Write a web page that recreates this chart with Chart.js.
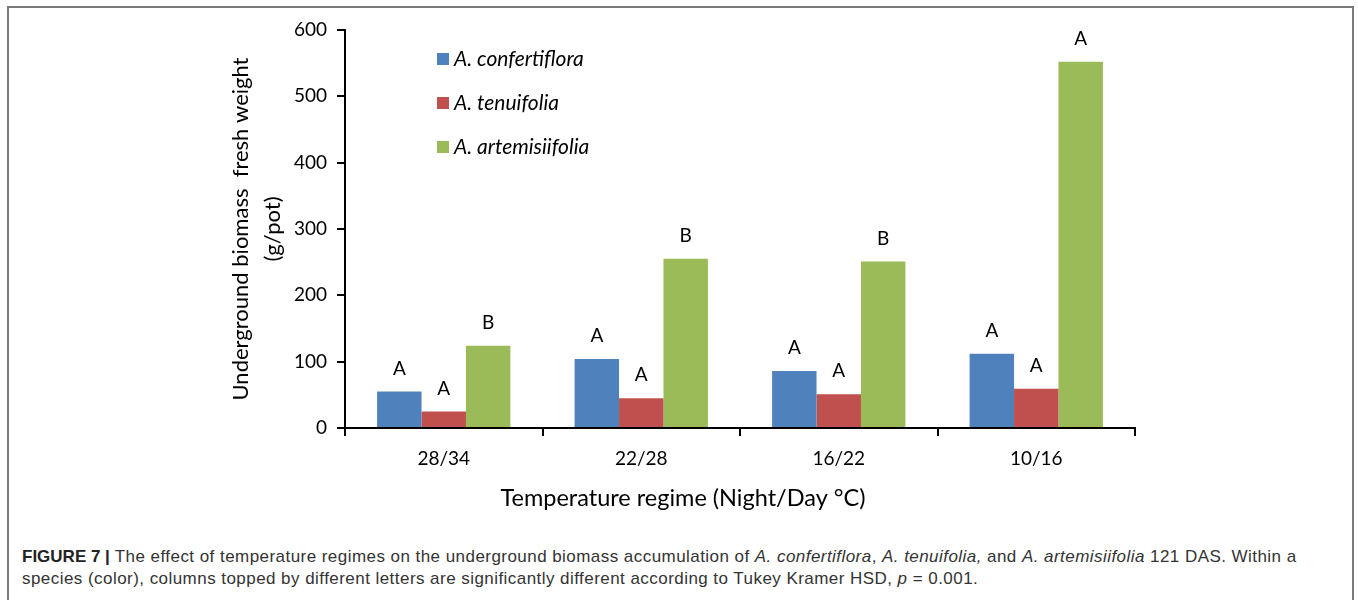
<!DOCTYPE html>
<html>
<head>
<meta charset="utf-8">
<script src="https://cdn.jsdelivr.net/npm/chart.js@4"></script>
<style>
  html, body { margin: 0; padding: 0; background: #fff; }
  body { width: 1358px; height: 600px; position: relative; overflow: hidden; }
  .frame { position: absolute; left: 7px; top: 6px; width: 1347px; height: 700px; border: 2px solid #7a7a7a; box-sizing: border-box; }
  .chart-box { position: absolute; left: 0; top: 0; width: 1358px; height: 520px; }
  .caption { position: absolute; left: 22px; top: 546px; font-family: "Liberation Sans", Arial, sans-serif; font-size: 17px; letter-spacing: 0.45px; line-height: 22px; color: #333; white-space: nowrap; }
  .caption b { color: #222; letter-spacing: 0; }
</style>
</head>
<body>
<div class="frame"></div>
<div class="chart-box"><canvas id="myChart"></canvas></div>
<div class="caption">
  <b>FIGURE 7 |</b> The effect of temperature regimes on the underground biomass accumulation of <i>A. confertiflora</i>, <i>A. tenuifolia,</i> and <i>A. artemisiifolia</i> 121 DAS. Within a<br>
  species (color), columns topped by different letters are significantly different according to Tukey Kramer HSD, <i>p</i> = 0.001.
</div>
<script>
(() => {
  'use strict'

  const regimes = ['28/34', '22/28', '16/22', '10/16']
  const species = ['A. confertiflora', 'A. tenuifolia', 'A. artemisiifolia']
  const confertiflora = [55, 104, 86, 112]
  const tenuifolia = [25, 45, 51, 59]
  const artemisiifolia = [124, 255, 251, 552]
  const letters = [
    ['A', 'A', 'A', 'A'],
    ['A', 'A', 'A', 'A'],
    ['B', 'B', 'B', 'A']
  ]
  const colors = ['#4F81BD', '#C0504D', '#9BBB59']
  const yTicks = [0, 100, 200, 300, 400, 500, 600]
  const xTitle = 'Temperature regime (Night/Day °C)'

  const font = 'Lato, "Open Sans", sans-serif'

  // letters above each bar
  const letterPlugin = {
    id: 'letters',
    afterDatasetsDraw (chart) {
      const c = chart.ctx
      c.save()
      c.font = '19px ' + font
      c.fillStyle = '#000'
      c.textAlign = 'center'
      c.textBaseline = 'middle'
      chart.data.datasets.forEach((ds, d) => {
        chart.getDatasetMeta(d).data.forEach((bar, i) => {
          c.fillText(letters[d][i], bar.x, bar.y - 23)
        })
      })
      c.restore()
    }
  }

  // legend inside the plot area + x axis title (sits left of the plot centre)
  const legendPlugin = {
    id: 'innerLegend',
    afterDraw (chart) {
      const c = chart.ctx
      c.save()
      c.font = 'italic 21px ' + font
      c.textBaseline = 'middle'
      chart.data.datasets.forEach((ds, d) => {
        const y = 59 + d * 44
        c.fillStyle = ds.backgroundColor
        c.fillRect(437, y - 6, 12, 12)
        c.fillStyle = '#000'
        c.fillText(ds.label, 454, y)
      })
      c.font = '23.5px ' + font
      c.textAlign = 'center'
      c.fillText(xTitle, 683, 498)
      c.restore()
    }
  }

  const ctx = document.getElementById('myChart')
  // eslint-disable-next-line no-unused-vars
  const myChart = new Chart(ctx, {
    type: 'bar',
    data: {
      labels: regimes,
      datasets: [confertiflora, tenuifolia, artemisiifolia].map((vals, i) => ({
        label: species[i],
        data: vals,
        backgroundColor: colors[i],
        barPercentage: 1,
        categoryPercentage: 0.675
      }))
    },
    options: {
      responsive: true,
      maintainAspectRatio: false,
      animation: false,
      layout: { padding: { top: 30, right: 223, left: 0, bottom: 0 } },
      plugins: {
        legend: { display: false },
        tooltip: { enabled: false }
      },
      scales: {
        x: {
          border: { color: '#000', width: 2 },
          grid: { drawOnChartArea: false, drawTicks: true, tickLength: 8, color: '#000', lineWidth: 2, offset: true },
          ticks: { color: '#000', font: { family: font, size: 19 }, padding: 11, maxRotation: 0 },
          afterFit (scale) { scale.height = 92 }
        },
        y: {
          min: 0,
          max: 600,
          border: { color: '#000', width: 2 },
          grid: { drawOnChartArea: false, drawTicks: true, tickLength: 8, color: '#000', lineWidth: 2 },
          afterBuildTicks (scale) { scale.ticks = yTicks.map(v => ({ value: v })) },
          ticks: { color: '#000', font: { family: font, size: 19 }, padding: 10 },
          title: {
            display: true,
            text: ['Underground biomass  fresh weight', '(g/pot)'],
            color: '#000',
            font: { family: font, size: 22, lineHeight: 1.45 },
            padding: { top: 225, bottom: 0 }
          },
          afterFit (scale) { scale.width = 345 }
        }
      }
    },
    plugins: [letterPlugin, legendPlugin]
  })
})()
</script>
</body>
</html>
